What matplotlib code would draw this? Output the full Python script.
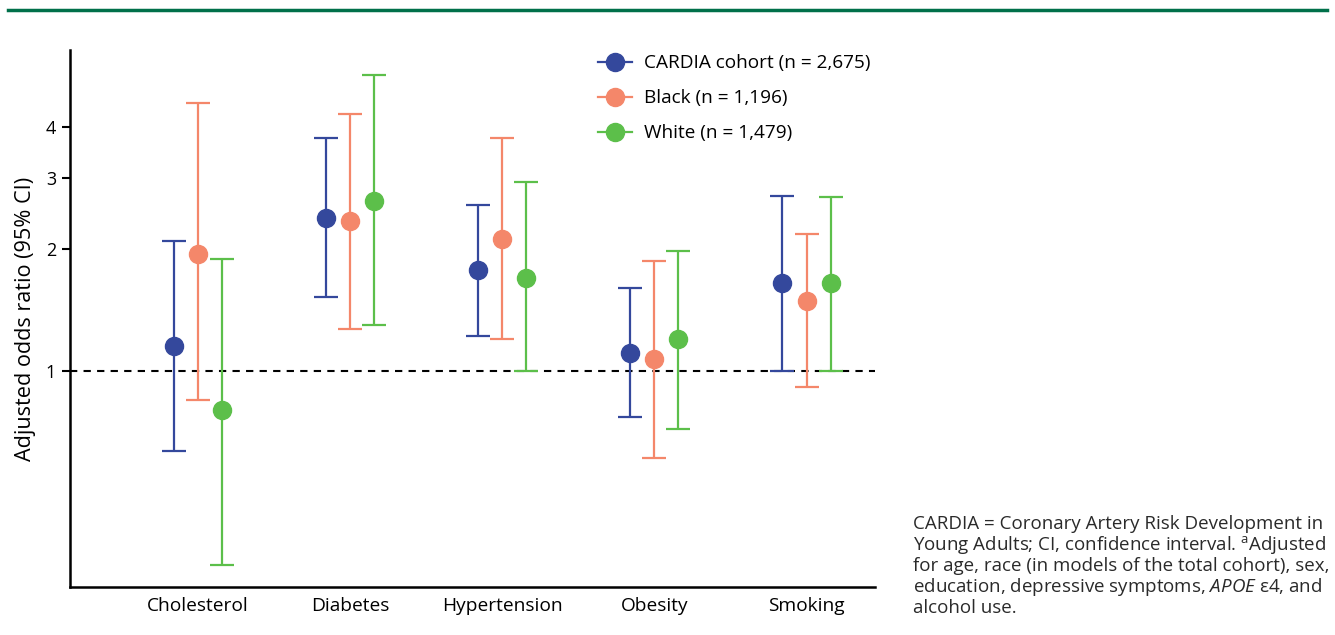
import numpy as np, matplotlib
matplotlib.use('Agg')
import matplotlib.pyplot as plt
from matplotlib.lines import Line2D
from matplotlib.ticker import FixedLocator, NullLocator, FixedFormatter

plt.rcParams.update({'font.family': ['Open Sans', 'DejaVu Sans'], 'font.size': 12,
                     'mathtext.fontset': 'custom', 'mathtext.rm': 'Open Sans',
                     'mathtext.it': 'Open Sans:italic'})

categories = ['Cholesterol', 'Diabetes', 'Hypertension', 'Obesity', 'Smoking']
series = ['CARDIA cohort (n = 2,675)', 'Black (n = 1,196)', 'White (n = 1,479)']
colors = ['#34489c', '#f4876a', '#5cbf4a']

cohort_or = [1.15, 2.39, 1.78, 1.11, 1.65]
cohort_lo = [0.635, 1.52, 1.22, 0.77, 1.00]
cohort_hi = [2.09, 3.76, 2.57, 1.60, 2.70]
black_or = [1.95, 2.35, 2.12, 1.07, 1.49]
black_lo = [0.85, 1.27, 1.20, 0.61, 0.915]
black_hi = [4.58, 4.31, 3.76, 1.87, 2.18]
white_or = [0.80, 2.63, 1.70, 1.20, 1.65]
white_lo = [0.332, 1.30, 1.00, 0.72, 1.00]
white_hi = [1.89, 5.37, 2.93, 1.98, 2.69]

est = [cohort_or, black_or, white_or]
lo = [cohort_lo, black_lo, white_lo]
hi = [cohort_hi, black_hi, white_hi]

fig = plt.figure(figsize=(13.35, 6.35), dpi=100, facecolor='white')
ax = fig.add_axes([70/1335, 1-587/635, 805/1335, 537/635])

x = np.arange(len(categories))
offsets = [-0.158, 0.0, 0.158]
for k in range(3):
    e = np.array(est[k]); l = np.array(lo[k]); h = np.array(hi[k])
    ax.errorbar(x + offsets[k], e, yerr=[e - l, h - e], fmt='o', color=colors[k],
                ms=13, elinewidth=1.6, capsize=8.5, capthick=1.6, zorder=3)

ax.axhline(1, color='black', lw=1.5, ls=(0, (3.5, 3)), zorder=2)
ax.set_yscale('log')
ax.set_ylim(0.293, 6.2)
ax.set_xlim(-0.84, 4.45)
ax.yaxis.set_major_locator(FixedLocator([1, 2, 3, 4]))
ax.yaxis.set_major_formatter(FixedFormatter(['1', '2', '3', '4']))
ax.yaxis.set_minor_locator(NullLocator())
ax.set_xticks(x)
ax.set_xticklabels(categories, fontsize=13.8)
ax.tick_params(axis='x', length=0, pad=7)
ax.tick_params(axis='y', length=6, width=1.5, labelsize=13, pad=4)
for s in ['top', 'right']:
    ax.spines[s].set_visible(False)
for s in ['left', 'bottom']:
    ax.spines[s].set_linewidth(1.8)
ax.set_ylabel('Adjusted odds ratio (95% CI)', fontsize=15.6, labelpad=7.3)

handles = [Line2D([], [], color=c, marker='o', ms=13, lw=1.6) for c in colors]
ax.legend(handles, series, loc='upper left', bbox_to_anchor=(0.6345, 1.024), frameon=False,
          fontsize=13.7, handlelength=1.8, handletextpad=0.63, labelspacing=0.9)

# top rule
fig.add_artist(Line2D([8/1335, 1327/1335], [1-10/635, 1-10/635], color='#00704a', lw=2.5))

foot = ['CARDIA = Coronary Artery Risk Development in',
        'Young Adults; CI, confidence interval. $^{\\mathrm{a}}$Adjusted',
        'for age, race (in models of the total cohort), sex,',
        'education, depressive symptoms, $\\mathit{APOE}$ ε4, and',
        'alcohol use.']
for i, line in enumerate(foot):
    fig.text(913/1335, 1-(524 + 21*i)/635, line, fontsize=13.5, color='#2a2a2a',
             va='center', ha='left')

fig.savefig('out.png', dpi=100, facecolor='white')
